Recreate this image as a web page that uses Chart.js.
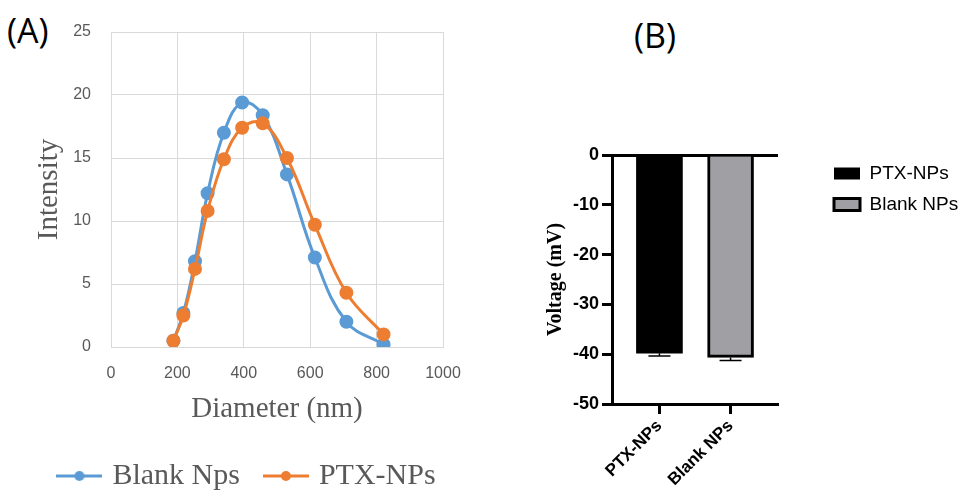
<!DOCTYPE html>
<html>
<head>
<meta charset="utf-8">
<script src="https://cdn.jsdelivr.net/npm/chart.js@4.4.0/dist/chart.umd.min.js"></script>
<style>
  body { margin: 0; background: #fff; width: 968px; height: 495px; position: relative; overflow: hidden; }
  canvas { position: absolute; top: 0; }
  #sizeChart { left: 0; }
  #zetaChart { left: 500px; }
  .panel { position: absolute; font-family: "Open Sans", sans-serif; font-size: 34px; line-height: 1; color: #000; }
</style>
</head>
<body>
<div class="panel" style="left:7px; top:13px;">(A)</div>
<div class="panel" style="left:634px; top:18px;">(B)</div>
<canvas id="sizeChart" width="500" height="495"></canvas>
<canvas id="zetaChart" width="468" height="495"></canvas>
<script>
// (A) size distribution
const diameter = [188, 218, 253, 291, 340, 395, 457, 530, 614, 709, 821];
const blankNps = [0.5, 2.7, 6.8, 12.2, 17.0, 19.4, 18.4, 13.7, 7.1, 2.0, 0.2];
const ptxNps   = [0.5, 2.5, 6.2, 10.8, 14.9, 17.4, 17.75, 15.0, 9.7, 4.3, 1.0];
const sizeSeries = ['Blank Nps', 'PTX-NPs'];

// (B) zeta potential
const groups = ['PTX-NPs', 'Blank NPs'];
const voltage = [-39.8, -40.65];
const voltageErr = [0.55, 0.6];

const lineColors = ['#5b9bd5', '#ed7d31'];
const barColors = ['#000000', '#a0a0a4'];

// little line + dot icon for the legend, like excel does
function markerIcon(color) {
    const c = document.createElement('canvas');
    c.width = 46;
    c.height = 12;
    const g = c.getContext('2d');
    g.strokeStyle = color;
    g.lineWidth = 3;
    g.beginPath();
    g.moveTo(0, 6);
    g.lineTo(46, 6);
    g.stroke();
    g.fillStyle = color;
    g.beginPath();
    g.arc(23, 6, 5, 0, Math.PI * 2);
    g.fill();
    return c;
}

// nudge a legend box after layout (and optionally force its width)
const legendShift = {
    id: 'legendShift',
    beforeLayout(chart, args, opts) {
        const lg = chart.legend;
        if (!lg || lg._patched || !opts.width) return;
        const fit = lg.fit.bind(lg);
        lg.fit = function () { fit(); this.width = opts.width; };
        lg._patched = true;
    },
    afterLayout(chart, args, opts) {
        const lg = chart.legend;
        if (!lg) return;
        lg.left += opts.dx || 0;
        lg.right += opts.dx || 0;
        lg.top += opts.dy || 0;
        lg.bottom += opts.dy || 0;
    }
};

const toPoints = (ys) => diameter.map((d, i) => ({ x: d, y: ys[i] }));

new Chart(document.getElementById('sizeChart'), {
    type: 'line',
    data: {
        datasets: [blankNps, ptxNps].map((ys, i) => ({
            label: sizeSeries[i],
            data: toPoints(ys),
            borderColor: lineColors[i],
            backgroundColor: lineColors[i],
            pointBackgroundColor: lineColors[i],
            pointBorderColor: lineColors[i],
            borderWidth: 3,
            pointRadius: 5.5,
            tension: 0.4,
            order: 1 - i
        }))
    },
    options: {
        responsive: false,
        animation: false,
        layout: { padding: { left: 0, right: 57, top: 32, bottom: -6 } },
        plugins: {
            tooltip: { enabled: false },
            legendShift: { dx: 27 },
            legend: {
                position: 'bottom',
                labels: {
                    usePointStyle: true,
                    pointStyleWidth: 36,
                    padding: 28,
                    color: '#595959',
                    font: { family: 'Liberation Serif', size: 30 },
                    sort: (a, b) => a.datasetIndex - b.datasetIndex,
                    generateLabels(chart) {
                        const items = Chart.defaults.plugins.legend.labels.generateLabels(chart);
                        items.forEach(it => { it.pointStyle = markerIcon(lineColors[it.datasetIndex]); });
                        return items;
                    }
                }
            }
        },
        scales: {
            x: {
                type: 'linear',
                min: 0,
                max: 1000,
                afterFit: (s) => { s.height = 86; },
                ticks: {
                    stepSize: 200, padding: 17, color: '#595959',
                    callback: (v) => String(v),
                    font: { family: 'Liberation Sans', size: 16 }
                },
                grid: { color: '#d9d9d9', drawTicks: false },
                border: { color: '#d9d9d9' },
                title: {
                    display: true, text: 'Diameter (nm)', color: '#595959',
                    font: { family: 'Liberation Serif', size: 29 },
                    padding: { top: 0, bottom: 6 }
                }
            },
            y: {
                min: 0,
                max: 25,
                afterFit: (s) => { s.width = 111; },
                ticks: { stepSize: 5, padding: 20, color: '#595959', font: { family: 'Liberation Sans', size: 16 } },
                grid: { color: '#d9d9d9', drawTicks: false },
                border: { color: '#d9d9d9' },
                title: {
                    display: true, text: 'Intensity', color: '#595959',
                    font: { family: 'Liberation Serif', size: 29 },
                    padding: { top: 32, bottom: 0 }
                }
            }
        }
    },
    plugins: [legendShift]
});

// one-sided error bars under each bar
const errorBars = {
    id: 'errorBars',
    afterDatasetsDraw(chart) {
        const { ctx } = chart;
        const y = chart.scales.y;
        ctx.save();
        ctx.strokeStyle = '#000';
        ctx.lineWidth = 1.5;
        chart.data.datasets.forEach((ds, i) => {
            const bar = chart.getDatasetMeta(i).data[0];
            if (!bar) return;
            const y0 = y.getPixelForValue(voltage[i]);
            const y1 = y.getPixelForValue(voltage[i] - voltageErr[i]);
            ctx.beginPath();
            ctx.moveTo(bar.x, y0);
            ctx.lineTo(bar.x, y1);
            ctx.moveTo(bar.x - 11, y1);
            ctx.lineTo(bar.x + 11, y1);
            ctx.stroke();
        });
        ctx.restore();
    }
};

new Chart(document.getElementById('zetaChart'), {
    type: 'bar',
    data: {
        datasets: groups.map((g, i) => ({
            label: g,
            data: [{ x: i + 1, y: voltage[i] }],
            backgroundColor: barColors[i],
            borderColor: '#000',
            borderWidth: i === 0 ? 0 : 3,
            barThickness: 46
        }))
    },
    options: {
        responsive: false,
        animation: false,
        grouped: false,
        layout: { padding: { left: 0, right: 0, top: 155, bottom: 0 } },
        plugins: {
            tooltip: { enabled: false },
            legend: {
                position: 'right',
                align: 'start',
                labels: {
                    boxWidth: 26,
                    boxHeight: 12,
                    padding: 12,
                    color: '#000',
                    font: { family: 'Liberation Sans', size: 19 }
                }
            },
            legendShift: { width: 190, dx: 44, dy: -3 }
        },
        scales: {
            x: {
                type: 'linear',
                offset: false,
                min: 0.333,
                max: 2.667,
                afterFit: (s) => { s.height = 91; },
                afterBuildTicks: (s) => { s.ticks = groups.map((g, i) => ({ value: i + 1 })); },
                ticks: {
                    callback: (v) => groups[v - 1],
                    minRotation: 45,
                    maxRotation: 45,
                    padding: 2,
                    color: '#000',
                    font: { family: 'Liberation Sans', size: 17, weight: 'bold' }
                },
                grid: { offset: false, drawOnChartArea: false, tickLength: 10, tickColor: '#000', tickWidth: 3 },
                border: { color: '#000', width: 3 }
            },
            y: {
                min: -50,
                max: 0,
                afterFit: (s) => { s.width = 112; },
                ticks: {
                    stepSize: 10,
                    padding: 3,
                    color: '#000',
                    font: { family: 'Liberation Sans', size: 18, weight: 'bold' }
                },
                grid: {
                    color: (c) => c.tick && c.tick.value === 0 ? '#000' : 'rgba(0,0,0,0)',
                    lineWidth: 3,
                    tickLength: 10,
                    tickColor: '#000',
                    tickWidth: 3
                },
                border: { color: '#000', width: 3 },
                title: {
                    display: true, text: 'Voltage (mV)', color: '#000',
                    font: { family: 'Liberation Serif', size: 20, weight: 'bold' },
                    padding: { top: 44, bottom: 0 }
                }
            }
        }
    },
    plugins: [errorBars, legendShift]
});
</script>
</body>
</html>
